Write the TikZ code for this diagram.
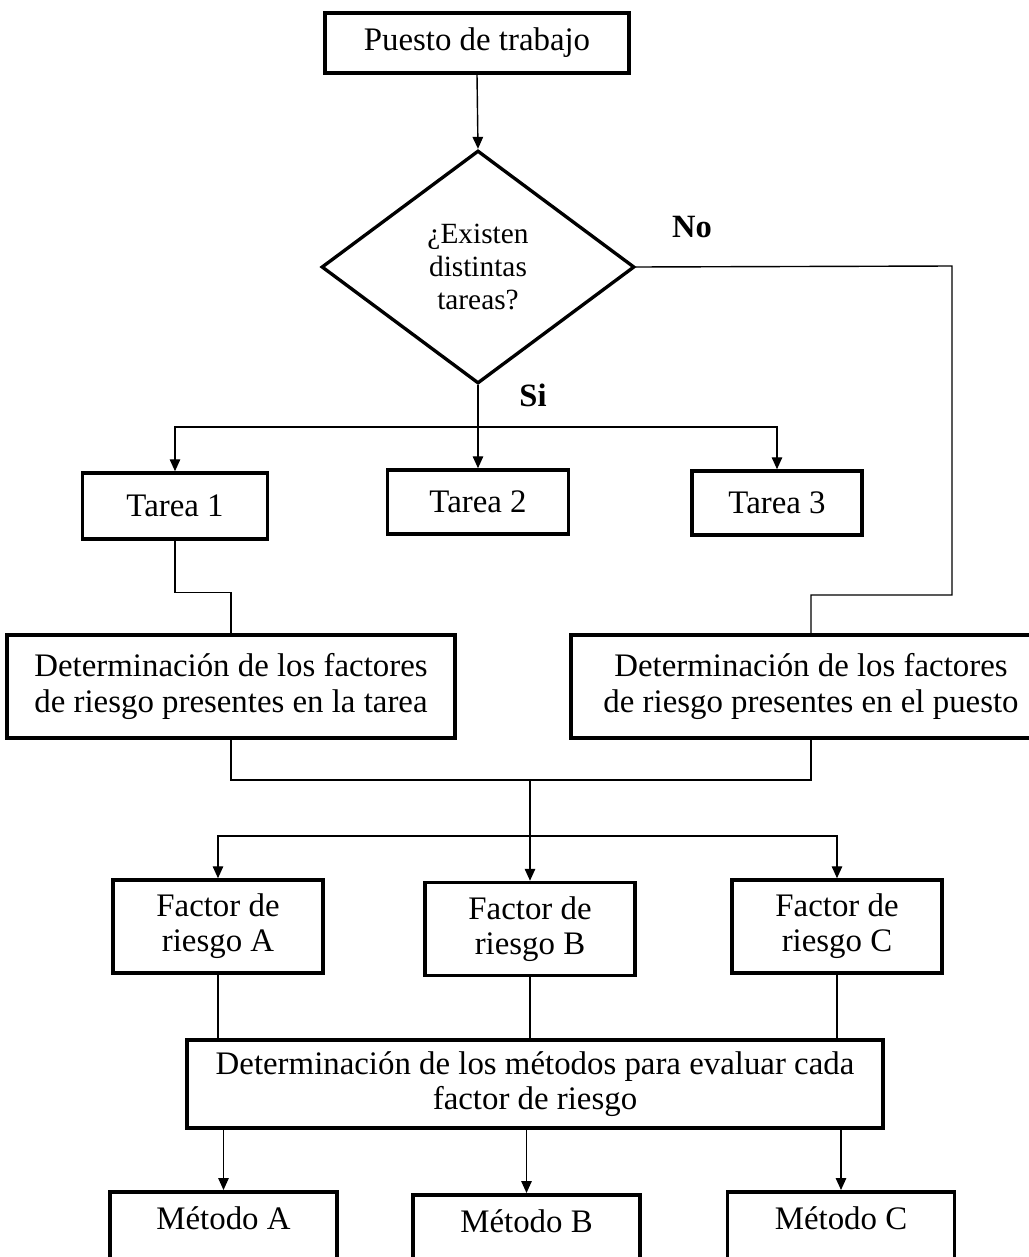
\documentclass[tikz,border=0pt]{standalone}
\usepackage{fontspec}
\setmainfont{Liberation Serif}
\usepackage{tikz}
\usetikzlibrary{calc, shapes.geometric, arrows.meta}

\tikzset{
	caja/.style={draw, line width=2pt, align=center, inner sep=2pt,
		font=\fontsize{18.7}{20}\selectfont},
	decision/.style={draw, diamond, line width=1.9pt, align=center, inner sep=0pt,
		minimum width=6.26cm, minimum height=4.66cm,
		font=\fontsize{16.7}{18.7}\selectfont},
	metodo/.style={caja, anchor=north, minimum width=4.54cm,
		inner ysep=0.2cm, text height=0.56cm, text depth=1cm},
	etiqueta/.style={font=\fontsize{18.5}{20}\selectfont\bfseries},
	linea/.style={line width=0.8pt},
	flecha/.style={linea, -{Triangle[length=2.4mm,width=2.1mm]}}
}

\begin{document}
\begin{tikzpicture}[x=0.02cm, y=-0.02cm]
	\useasboundingbox (0,0) rectangle (1028,1257);

	%%%%     PUESTO Y PREGUNTA     %%%%
	\node[caja, minimum width=6.08cm, minimum height=1.2cm] (puesto) at (477,43) {Puesto de trabajo};
	\node[decision] (decision) at (478,267) {¿Existen\\distintas\\tareas?};
	\node[etiqueta] (no) at (692,227) {No};
	\node[etiqueta] (si) at (533,395) {Si};

	\draw[flecha] (puesto.south) -- (decision.north);

	%%%%     TAREAS     %%%%
	\node[caja, minimum width=3.7cm, minimum height=1.32cm] (tarea1) at (175,506) {Tarea 1};
	\node[caja, minimum width=3.62cm, minimum height=1.28cm] (tarea2) at (478,502) {Tarea 2};
	\node[caja, minimum width=3.4cm, minimum height=1.28cm] (tarea3) at (777,503) {Tarea 3};

	% rama si
	\coordinate (siRama) at (478,427);
	\draw[linea] (decision.south) -- (siRama);
	\draw[flecha] (siRama) -| (tarea1.north);
	\draw[flecha] (siRama) -- (tarea2.north);
	\draw[flecha] (siRama) -| (tarea3.north);

	%%%%     FACTORES PRESENTES     %%%%
	\node[caja, minimum width=8.96cm, minimum height=2.06cm] (detTarea) at (231,686.5)
		{Determinación de los factores\\de riesgo presentes en la tarea};
	\node[caja, minimum width=9.6cm, minimum height=2.06cm] (detPuesto) at (811,686.5)
		{Determinación de los factores\\de riesgo presentes en el puesto};

	% rama no
	\coordinate (noA) at (952,266);
	\coordinate (noB) at (952,595);
	\draw[linea] (decision.east) -- (noA) -- (noB) -| (detPuesto.north);

	\draw[linea] (tarea1.south) -- ++(0,52) -| (detTarea.north);

	% union
	\coordinate (union) at (530,780);
	\draw[linea] (detTarea.south) |- (union) -| (detPuesto.south);

	%%%%     FACTORES DE RIESGO     %%%%
	\node[caja, minimum width=4.2cm, minimum height=1.86cm] (factA) at (218,926.5) {Factor de\\riesgo A};
	\node[caja, minimum width=4.2cm, minimum height=1.86cm] (factB) at (530,929) {Factor de\\riesgo B};
	\node[caja, minimum width=4.2cm, minimum height=1.86cm] (factC) at (837,926.5) {Factor de\\riesgo C};

	\coordinate (ramaF) at (530,836);
	\draw[linea] (union) -- (ramaF);
	\draw[flecha] (ramaF) -| (factA.north);
	\draw[flecha] (ramaF) -- (factB.north);
	\draw[flecha] (ramaF) -| (factC.north);

	%%%%     METODOS     %%%%
	\node[caja, minimum width=13.92cm, minimum height=1.76cm] (metodos) at (535,1084)
		{Determinación de los métodos para evaluar cada\\factor de riesgo};

	\draw[linea] (factA.south) -- (factA.south |- metodos.north);
	\draw[linea] (factB.south) -- (factB.south |- metodos.north);
	\draw[linea] (factC.south) -- (factC.south |- metodos.north);

	\node[metodo] (metA) at (223.5,1190) {Método A};
	\node[metodo] (metB) at (526.5,1193) {Método B};
	\node[metodo] (metC) at (841,1190) {Método C};

	\draw[flecha] (metA.north |- metodos.south) -- (metA.north);
	\draw[flecha] (metB.north |- metodos.south) -- (metB.north);
	\draw[flecha] (metC.north |- metodos.south) -- (metC.north);

\end{tikzpicture}
\end{document}
